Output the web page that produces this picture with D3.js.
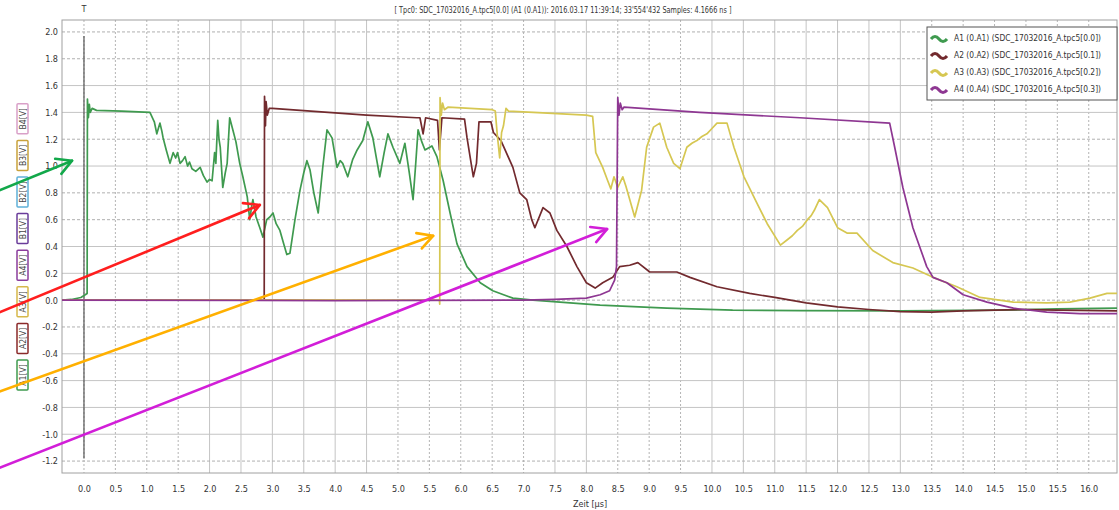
<!DOCTYPE html>
<html>
<head>
<meta charset="utf-8">
<script src="https://cdn.jsdelivr.net/npm/d3@7"></script>
<style>
  body { margin: 0; background: #fff; }
  svg { display: block; font-family: "Liberation Sans Narrow", "DejaVu Sans Condensed", sans-serif; }
</style>
</head>
<body>
<svg id="chart" width="1119" height="510"></svg>
<script>
// ---- data (time in µs, voltage in V) ----
var xTicks = [0, 0.5, 1, 1.5, 2, 2.5, 3, 3.5, 4, 4.5, 5, 5.5, 6, 6.5, 7, 7.5, 8,
              8.5, 9, 9.5, 10, 10.5, 11, 11.5, 12, 12.5, 13, 13.5, 14, 14.5, 15, 15.5, 16];
var yTicks = [2.0, 1.8, 1.6, 1.4, 1.2, 1.0, 0.8, 0.6, 0.4, 0.2, 0.0,
              -0.2, -0.4, -0.6, -0.8, -1.0, -1.2];

var seriesNames = ["A1 (0.A1) (SDC_17032016_A.tpc5[0.0])",
                   "A2 (0.A2) (SDC_17032016_A.tpc5[0.1])",
                   "A3 (0.A3) (SDC_17032016_A.tpc5[0.2])",
                   "A4 (0.A4) (SDC_17032016_A.tpc5[0.3])"];
var channelLabels = ["A1[V]", "A2[V]", "A3[V]", "A4[V]", "B1[V]", "B2[V]", "B3[V]", "B4[V]"];

var a1 = [[-0.35,0],[-0.2,0.005],[-0.05,0.02],[0.02,0.04],[0.05,0.05],[0.055,1.5],[0.07,1.36],[0.085,1.46],
  [0.1,1.4],[0.13,1.43],[0.2,1.415],[0.6,1.41],[1.05,1.4],[1.12,1.33],[1.16,1.24],[1.19,1.29],[1.21,1.32],
  [1.24,1.26],[1.26,1.21],[1.31,1.12],[1.37,1.02],[1.42,1.1],[1.46,1.06],[1.49,1.1],[1.53,1.02],[1.57,1.04],
  [1.61,1.07],[1.65,1.0],[1.68,1.03],[1.72,0.98],[1.78,0.96],[1.85,0.99],[1.9,0.93],[1.96,0.88],[2.0,0.9],
  [2.04,0.89],[2.08,1.1],[2.1,1.02],[2.12,1.24],[2.13,1.34],[2.15,1.2],[2.17,1.14],[2.21,0.84],[2.25,0.95],
  [2.28,1.02],[2.32,1.36],[2.37,1.27],[2.42,1.18],[2.48,1.02],[2.53,0.92],[2.6,0.77],[2.64,0.6],[2.67,0.7],
  [2.69,0.75],[2.74,0.62],[2.8,0.54],[2.85,0.47],[2.91,0.6],[2.96,0.62],[3.01,0.65],[3.06,0.57],[3.12,0.52],
  [3.18,0.42],[3.23,0.34],[3.28,0.35],[3.36,0.6],[3.44,0.82],[3.5,0.95],[3.55,1.04],[3.6,0.97],[3.66,0.8],
  [3.73,0.65],[3.8,0.98],[3.87,1.27],[3.95,1.21],[4.03,0.99],[4.08,1.04],[4.12,1.02],[4.2,0.92],[4.28,1.05],
  [4.35,1.12],[4.44,1.19],[4.52,1.33],[4.6,1.21],[4.66,1.05],[4.71,0.92],[4.78,1.1],[4.84,1.24],[4.92,1.14],
  [5.03,1.02],[5.11,1.17],[5.18,0.95],[5.24,0.75],[5.28,1.0],[5.32,1.27],[5.38,1.18],[5.43,1.12],[5.54,1.15],
  [5.62,1.07],[5.72,0.89],[5.83,0.65],[5.94,0.42],[6.1,0.25],[6.31,0.13],[6.51,0.07],[6.83,0.015],[7.15,0],
  [7.58,-0.015],[8.22,-0.037],[9.28,-0.06],[10.33,-0.075],[11.4,-0.078],[13,-0.08],[14.6,-0.075],
  [15.5,-0.065],[16.45,-0.06]];

var a2 = [[-0.35,0],[1.5,0.003],[2.87,0],[2.875,1.52],[2.89,1.3],[2.9,1.48],[2.92,1.38],[2.95,1.43],[3.0,1.43],
  [4.5,1.38],[5.3,1.36],[5.35,1.36],[5.4,1.24],[5.44,1.36],[5.63,1.34],[5.66,1.12],[5.7,1.36],[6.06,1.35],
  [6.1,1.21],[6.2,0.92],[6.25,1.02],[6.29,1.33],[6.48,1.33],[6.52,1.25],[6.64,1.19],[6.83,0.99],[6.94,0.8],
  [7.05,0.75],[7.13,0.6],[7.18,0.54],[7.31,0.69],[7.42,0.65],[7.53,0.52],[7.69,0.4],[7.85,0.25],[8.0,0.13],
  [8.14,0.09],[8.26,0.13],[8.42,0.17],[8.53,0.25],[8.69,0.26],[8.82,0.28],[9.01,0.21],[9.28,0.21],[9.44,0.21],
  [9.65,0.17],[10.08,0.1],[10.6,0.05],[11.0,0.02],[11.5,-0.02],[12.0,-0.05],[12.5,-0.07],[13.0,-0.085],
  [13.5,-0.09],[14.0,-0.08],[14.5,-0.075],[15.0,-0.07],[15.5,-0.075],[16.45,-0.08]];

var a3 = [[-0.35,0],[3,0.002],[5.66,0],[5.665,-0.03],[5.67,1.51],[5.69,1.38],[5.71,1.47],[5.74,1.42],[5.8,1.44],
  [6.5,1.42],[6.55,1.41],[6.58,1.24],[6.62,1.06],[6.65,1.25],[6.68,1.3],[6.72,1.43],[6.76,1.41],[7.15,1.4],
  [8.0,1.38],[8.1,1.37],[8.15,1.1],[8.26,0.99],[8.34,0.89],[8.39,0.83],[8.44,0.92],[8.5,0.84],[8.58,0.92],
  [8.63,0.85],[8.77,0.62],[8.88,0.82],[8.96,1.14],[9.07,1.29],[9.17,1.32],[9.28,1.14],[9.39,1.02],[9.49,0.98],
  [9.6,1.14],[9.68,1.17],[9.76,1.19],[9.84,1.22],[9.92,1.24],[10.0,1.28],[10.08,1.32],[10.24,1.32],[10.35,1.14],
  [10.51,0.92],[10.72,0.72],[10.88,0.57],[11.09,0.41],[11.2,0.45],[11.28,0.48],[11.36,0.52],[11.44,0.55],
  [11.52,0.6],[11.58,0.63],[11.63,0.67],[11.71,0.75],[11.84,0.69],[12.0,0.54],[12.15,0.5],[12.31,0.5],
  [12.56,0.37],[12.88,0.28],[13.2,0.24],[13.52,0.17],[13.9,0.1],[14.27,0.02],[14.8,-0.015],[15.33,-0.02],
  [15.7,-0.015],[16.02,0.015],[16.29,0.05],[16.45,0.05]];

var a4 = [[-0.35,0],[4,-0.003],[7.0,0],[7.5,0.005],[8.0,0.015],[8.22,0.04],[8.37,0.07],[8.45,0.15],[8.48,0.25],
  [8.5,1.51],[8.52,1.38],[8.54,1.47],[8.57,1.42],[8.6,1.44],[9.8,1.4],[11.4,1.36],[12.83,1.32],[12.91,1.14],
  [13.04,0.84],[13.2,0.54],[13.42,0.25],[13.52,0.17],[13.74,0.13],[14.0,0.04],[14.38,-0.015],[14.8,-0.06],
  [15.33,-0.09],[15.86,-0.1],[16.45,-0.1]];

var triggerTime = 0;
var triggerSpan = [-1.18, 1.97];

// hand drawn arrows: [start, end] in axis units
var arrowGreen   = [[-1.34, 0.82], [-0.19, 1.04]];
var arrowRed     = [[-1.34, -0.09], [2.80, 0.71]];
var arrowOrange  = [[-1.34, -0.68], [5.56, 0.48]];
var arrowMagenta = [[-1.34, -1.25], [8.33, 0.53]];

// ---- styling ----
var traceColors = ["#3f9a4f", "#722a2e", "#d6c752", "#8e3792"];
var channelColors = ["#3f9a4f", "#8b2a2a", "#d6b84a", "#8a3c9c", "#6a3c9a", "#5fb0d8", "#c9a23c", "#d9a0c8"];
var solidX = [2, 2.5, 3, 3.5, 4, 4.5, 7.5, 8, 10, 10.5, 11, 11.5, 12, 12.5, 13];
var solidY = [1.6, 1.4, 1.0, 0.4, 0.2, -0.4, -0.6, -0.8, -1.0];

var plotL = 62, plotR = 1117, plotT = 20, plotB = 473;
var svg = d3.select("#chart");

var x = d3.scaleLinear().domain([-0.35, 16.45]).range([plotL, plotR]);
var y = d3.scaleLinear().domain([-1.289, 2.089]).range([plotB, plotT]);

// grid
var grid = svg.append("g");
grid.selectAll("line.vx").data(xTicks).join("line")
  .attr("x1", d => x(d)).attr("x2", d => x(d))
  .attr("y1", plotT).attr("y2", plotB)
  .attr("stroke", d => solidX.indexOf(d) >= 0 ? "#c4c4c4" : "#b4b4b4")
  .attr("stroke-dasharray", d => solidX.indexOf(d) >= 0 ? null : "2,2")
  .attr("stroke-width", 1);
grid.selectAll("line.hy").data(yTicks).join("line")
  .attr("x1", plotL).attr("x2", plotR)
  .attr("y1", d => y(d)).attr("y2", d => y(d))
  .attr("stroke", d => solidY.indexOf(d) >= 0 ? "#c4c4c4" : "#b0b0b0")
  .attr("stroke-dasharray", d => solidY.indexOf(d) >= 0 ? null : "3,2")
  .attr("stroke-width", 1);

// frame
svg.append("rect").attr("x", plotL).attr("y", plotT)
  .attr("width", plotR - plotL).attr("height", plotB - plotT)
  .attr("fill", "none").attr("stroke", "#a0a0a0");

// axes (labels only)
svg.append("g").attr("transform", "translate(" + plotL + ",0)")
  .call(d3.axisLeft(y).tickValues(yTicks).tickSize(0).tickPadding(4).tickFormat(d => d.toFixed(1)));
svg.append("g").attr("transform", "translate(0," + plotB + ")")
  .call(d3.axisBottom(x).tickValues(xTicks).tickSize(0).tickPadding(13).tickFormat(d => d.toFixed(1)));
svg.selectAll(".domain").remove();
svg.selectAll(".tick text").attr("fill", "#333").style("font-size", "9px")
  .style("font-family", "\"Liberation Sans Narrow\", \"DejaVu Sans Condensed\", sans-serif");

svg.append("text").attr("x", 590).attr("y", 507).attr("text-anchor", "middle")
  .attr("fill", "#333").style("font-size", "9px").text("Zeit [µs]");

// title
svg.append("text").attr("x", 563).attr("y", 13).attr("text-anchor", "middle")
  .attr("fill", "#333").style("font-size", "8.5px")
  .attr("textLength", 337).attr("lengthAdjust", "spacingAndGlyphs")
  .text("[ Tpc0: SDC_17032016_A.tpc5[0.0] (A1 (0.A1)): 2016.03.17 11:39:14; 33'554'432 Samples: 4.1666 ns ]");

// trigger marker
svg.append("line")
  .attr("x1", x(triggerTime)).attr("x2", x(triggerTime))
  .attr("y1", y(triggerSpan[1])).attr("y2", y(triggerSpan[0]))
  .attr("stroke", "#555").attr("stroke-width", 1.2);
svg.append("text").attr("x", x(triggerTime)).attr("y", 12).attr("text-anchor", "middle")
  .attr("fill", "#333").style("font-size", "9px").text("T");

// traces
svg.append("clipPath").attr("id", "plotClip").append("rect")
  .attr("x", plotL).attr("y", plotT).attr("width", plotR - plotL).attr("height", plotB - plotT);
var line = d3.line().x(d => x(d[0])).y(d => y(d[1]));
var traces = svg.append("g").attr("clip-path", "url(#plotClip)");
[a1, a2, a3, a4].forEach(function(s, i) {
  traces.append("path").datum(s).attr("d", line)
    .attr("fill", "none").attr("stroke", traceColors[i]).attr("stroke-width", 1.7)
    .attr("stroke-linejoin", "round");
});

// legend
var lg = svg.append("g");
lg.append("rect").attr("x", 927).attr("y", 27).attr("width", 190).attr("height", 73)
  .attr("fill", "#fff").attr("stroke", "#555");
seriesNames.forEach(function(name, i) {
  var cy = 38 + i * 17;
  lg.append("path").attr("d", "M931," + (cy + 1) + " q4,-5 8,0 t8,0")
    .attr("fill", "none").attr("stroke", traceColors[i]).attr("stroke-width", 3);
  lg.append("text").attr("x", 954).attr("y", cy + 3).attr("fill", "#333")
    .style("font-size", "9px").attr("textLength", 147).attr("lengthAdjust", "spacingAndGlyphs")
    .text(name);
});

// channel boxes at the left
channelLabels.forEach(function(lbl, i) {
  var cy = 375 - i * 36.6;
  svg.append("rect").attr("x", 17).attr("y", cy - 15).attr("width", 11).attr("height", 30)
    .attr("fill", "#fff").attr("stroke", channelColors[i]).attr("stroke-width", 1.5).attr("rx", 1);
  svg.append("text").attr("transform", "translate(25.5," + cy + ") rotate(-90)")
    .attr("text-anchor", "middle").attr("fill", "#444").style("font-size", "8.5px").text(lbl);
});

// annotation arrows
function arrow(a, color) {
  var x0 = x(a[0][0]), y0 = y(a[0][1]), x1 = x(a[1][0]), y1 = y(a[1][1]);
  var ang = Math.atan2(y1 - y0, x1 - x0), L = 17, w = 0.5;
  var g = svg.append("g").attr("stroke", color).attr("stroke-width", 2.6)
    .attr("fill", "none").attr("stroke-linecap", "round").attr("stroke-linejoin", "round");
  g.append("line").attr("x1", x0 - 5).attr("y1", y0 - 5 * Math.tan(ang)).attr("x2", x1).attr("y2", y1);
  g.append("path").attr("d",
    "M" + (x1 - L * Math.cos(ang - w)) + "," + (y1 - L * Math.sin(ang - w)) +
    "L" + x1 + "," + y1 +
    "L" + (x1 - L * Math.cos(ang + w)) + "," + (y1 - L * Math.sin(ang + w)));
}
arrow(arrowGreen, "#12a84a");
arrow(arrowRed, "#ff1e1e");
arrow(arrowOrange, "#ffb000");
arrow(arrowMagenta, "#d21ed8");
</script>
</body>
</html>
